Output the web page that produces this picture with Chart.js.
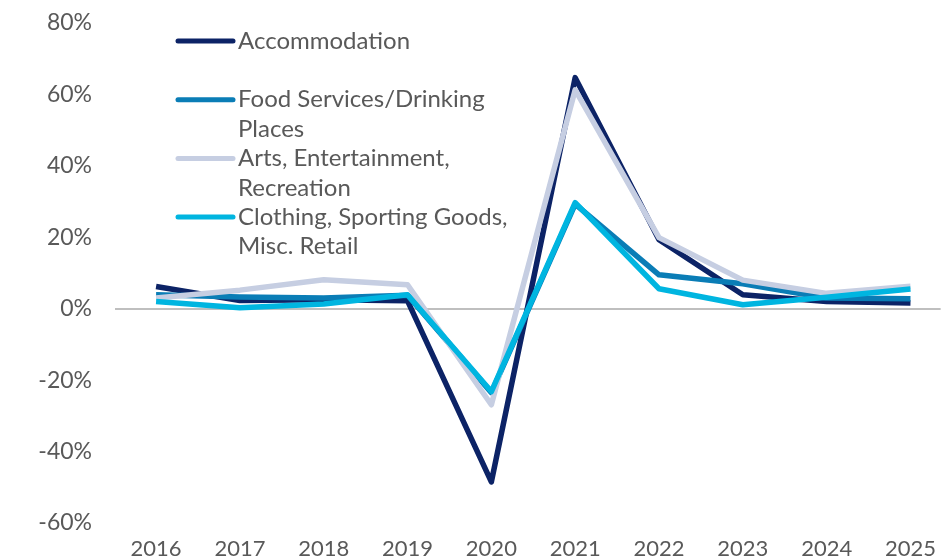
<!DOCTYPE html>
<html lang="en">
<head>
<meta charset="UTF-8">
<title>Industry Growth</title>
<script src="https://cdn.jsdelivr.net/npm/chart.js"></script>
<style>
  html, body { margin: 0; padding: 0; background: #fff; }
  #wrap { width: 941px; height: 560px; }
</style>
</head>
<body>
<div id="wrap"><canvas id="growthChart" width="941" height="560"></canvas></div>
<script>
    // Years on the x axis
    const years = [2016, 2017, 2018, 2019, 2020, 2021, 2022, 2023, 2024, 2025];

    // Year-over-year change, in percent
    const accommodation = [6.2, 2.3, 2.5, 2.2, -48.5, 64.7, 19.3, 3.9, 2.0, 1.6];
    const foodServices = [3.9, 3.3, 3.0, 3.8, -23.5, 29.3, 9.5, 7.0, 3.0, 2.8];
    const artsRecreation = [3.0, 5.2, 8.1, 6.7, -26.9, 61.3, 19.9, 8.0, 4.3, 6.3];
    const clothingRetail = [2.0, 0.3, 1.3, 3.9, -23.2, 29.7, 5.6, 1.1, 3.2, 5.5];

    const yTicks = [-60, -40, -20, 0, 20, 40, 60, 80];

    const labelColor = '#595959';
    const fontFamily = 'Lato, "Open Sans", sans-serif';

    function toPoints(values) {
        return values.map((v, i) => ({ x: years[i], y: v }));
    }

    // Legend drawn inside the plot, labels wrapped over two lines
    const insideLegend = {
        id: 'insideLegend',
        afterDraw(chart) {
            const ctx = chart.ctx;
            const x0 = 178, x1 = 233, textX = 238;
            const firstY = 41, rowStep = 58.7, lineStep = 29.5;
            ctx.save();
            ctx.font = '24px ' + fontFamily;
            ctx.textBaseline = 'middle';
            ctx.textAlign = 'left';
            chart.data.datasets.forEach((ds, i) => {
                const y = firstY + i * rowStep;
                ctx.strokeStyle = ds.borderColor;
                ctx.lineWidth = 5;
                ctx.lineCap = 'round';
                ctx.beginPath();
                ctx.moveTo(x0, y);
                ctx.lineTo(x1, y);
                ctx.stroke();
                ctx.fillStyle = labelColor;
                ds.legendLines.forEach((t, j) => {
                    ctx.fillText(t, textX, y + j * lineStep);
                });
            });
            ctx.restore();
        }
    };

    const ctx = document.getElementById('growthChart').getContext('2d');
    new Chart(ctx, {
        type: 'line',
        data: {
            datasets: [
                {
                    label: 'Accommodation',
                    legendLines: ['Accommodation'],
                    data: toPoints(accommodation),
                    borderColor: '#0c2366',
                    order: 4
                },
                {
                    label: 'Food Services/Drinking Places',
                    legendLines: ['Food Services/Drinking', 'Places'],
                    data: toPoints(foodServices),
                    borderColor: '#0a7db6',
                    order: 3
                },
                {
                    label: 'Arts, Entertainment, Recreation',
                    legendLines: ['Arts, Entertainment,', 'Recreation'],
                    data: toPoints(artsRecreation),
                    borderColor: '#c6cee2',
                    order: 2
                },
                {
                    label: 'Clothing, Sporting Goods, Misc. Retail',
                    legendLines: ['Clothing, Sporting Goods,', 'Misc. Retail'],
                    data: toPoints(clothingRetail),
                    borderColor: '#00b5e0',
                    order: 1
                }
            ]
        },
        options: {
            responsive: false,
            animation: false,
            events: [],
            layout: { padding: { top: 23, right: 0, left: 0, bottom: 0 } },
            elements: {
                line: { borderWidth: 5.5, tension: 0, borderJoinStyle: 'round', borderCapStyle: 'butt' },
                point: { radius: 0 }
            },
            plugins: {
                legend: { display: false },
                tooltip: { enabled: false }
            },
            scales: {
                x: {
                    type: 'linear',
                    min: 2015.51,
                    max: 2025.36,
                    grid: { display: false },
                    border: { display: false },
                    afterBuildTicks(scale) {
                        scale.ticks = years.map(v => ({ value: v }));
                    },
                    afterFit(scale) { scale.height = 37; },
                    ticks: {
                        color: labelColor,
                        font: { family: fontFamily, size: 22 },
                        padding: 5,
                        maxRotation: 0,
                        autoSkip: false,
                        callback: v => String(v)
                    }
                },
                y: {
                    min: -60,
                    max: 80,
                    afterBuildTicks(scale) {
                        scale.ticks = yTicks.map(v => ({ value: v }));
                    },
                    afterFit(scale) { scale.width = 115; scale.paddingTop = 0; },
                    border: { display: false },
                    grid: {
                        drawTicks: false,
                        lineWidth: 2,
                        color: c => (c.tick && c.tick.value === 0) ? '#bfbfbf' : 'rgba(0,0,0,0)'
                    },
                    ticks: {
                        color: labelColor,
                        font: { family: fontFamily, size: 23 },
                        padding: 23,
                        callback: v => v + '%'
                    }
                }
            }
        },
        plugins: [insideLegend]
    });
</script>
</body>
</html>
